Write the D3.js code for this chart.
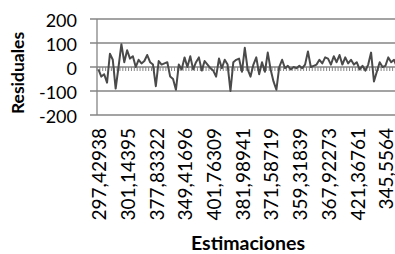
<!DOCTYPE html>
<html>
<head>
<meta charset="utf-8">
<script src="https://cdn.jsdelivr.net/npm/d3@7"></script>
<style>
  body { margin: 0; background: #fff; }
  text { font-family: Lato, "Open Sans", sans-serif; fill: #000; }
</style>
</head>
<body>
<svg id="chart" width="395" height="254"></svg>
<script>
// residuals, one per estimate
const residuales = [
  -10, -40, -30, -65, 55, 30, -90, 0, 95, 20,
  70, 35, 45, 0, 30, 15, 25, 50, 20, 10,
  -80, 25, 10, 15, 20, -40, -50, -95, 10, -10,
  40, 0, 45, -10, 20, 40, -15, 25, 10, -5,
  -15, -40, 35, -5, 30, 10, -100, 20, 30, 35,
  -20, 80, -10, -40, 10, 40, -30, 20, -20, 60,
  -10, -60, -95, 0, 30, -5, 5, -10, 0, -5,
  5, -5, 10, 65, 0, 5, 10, 30, 15, 40,
  35, 10, 45, 20, 50, 10, 40, 15, 30, 10,
  20, -10, 5, -15, 10, 60, -60, -20, 20, 0,
  5, 40, 20, 30, 0, 20
];

// category labels shown (every 10th estimate)
const estimaciones = [
  "297,42938", "301,14395", "377,83322", "349,41696", "401,76309",
  "381,98941", "371,58719", "359,31839", "367,92273", "421,36761", "345,5564"
];
const labelStep = 10;
const yTicks = [200, 100, 0, -100, -200];

const svg = d3.select("#chart");
const plotLeft = 97, plotTop = 19, plotBottom = 115;
const band = 2.87;

const x = d3.scaleBand()
  .domain(d3.range(residuales.length))
  .range([plotLeft, plotLeft + band * residuales.length]);

const y = d3.scaleLinear().domain([-200, 200]).range([plotBottom, plotTop]);

const gray = "#858585";
const plotRight = plotLeft + band * residuales.length;

// gridlines + y ticks
svg.selectAll(".grid")
  .data(yTicks)
  .enter()
  .append("line")
  .attr("x1", plotLeft - 7)
  .attr("x2", plotRight)
  .attr("y1", (d) => y(d))
  .attr("y2", (d) => y(d))
  .attr("stroke", gray)
  .attr("stroke-width", 1.3);

svg.append("line")
  .attr("x1", plotLeft).attr("x2", plotLeft)
  .attr("y1", y(200)).attr("y2", y(-200))
  .attr("stroke", gray).attr("stroke-width", 1.3);

svg.selectAll(".ylab")
  .data(yTicks)
  .enter()
  .append("text")
  .attr("x", 77)
  .attr("y", (d) => y(d) + 2)
  .attr("dy", "0.36em")
  .attr("text-anchor", "end")
  .style("font-size", "18px")
  .text((d) => d);

// category ticks on the zero line
svg.selectAll(".xtick")
  .data(d3.range(residuales.length + 1))
  .enter()
  .append("line")
  .attr("x1", (d) => plotLeft + d * x.step())
  .attr("x2", (d) => plotLeft + d * x.step())
  .attr("y1", y(0))
  .attr("y2", y(0) + 4)
  .attr("stroke", gray)
  .attr("stroke-width", 1);

// the residual line
const line = d3.line()
  .x((d, i) => x(i) + x.bandwidth() / 2)
  .y((d) => y(d));

svg.append("path")
  .datum(residuales)
  .attr("d", line)
  .attr("fill", "none")
  .attr("stroke", "#4a4a4a")
  .attr("stroke-width", 2)
  .attr("stroke-linejoin", "round");

// category labels
svg.selectAll(".xlab")
  .data(estimaciones)
  .enter()
  .append("text")
  .attr("transform", (d, i) =>
    `translate(${x(i * labelStep) + x.bandwidth() / 2 + 1},128) rotate(-90)`)
  .attr("dy", "0.36em")
  .attr("text-anchor", "end")
  .style("font-size", "19px")
  .text((d) => d);

// axis titles
svg.append("text")
  .attr("transform", "translate(18,73) rotate(-90)")
  .attr("dy", "0.36em")
  .attr("text-anchor", "middle")
  .style("font-size", "17.5px")
  .style("font-weight", "bold")
  .text("Residuales");

svg.append("text")
  .attr("x", 248)
  .attr("y", 250)
  .attr("text-anchor", "middle")
  .style("font-size", "19.5px")
  .style("font-weight", "bold")
  .text("Estimaciones");
</script>
</body>
</html>
